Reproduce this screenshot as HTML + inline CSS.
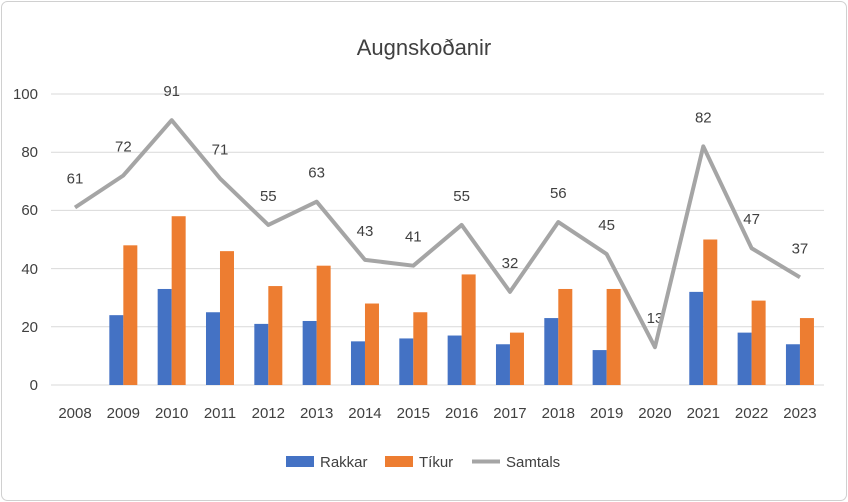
<!DOCTYPE html>
<html><head><meta charset="utf-8"><style>
body{margin:0;background:#fff;}
svg{display:block;font-family:"Liberation Sans",sans-serif;}
</style></head><body>
<svg width="848" height="502" viewBox="0 0 848 502">
<rect x="1.5" y="1.5" width="845" height="499" rx="6" fill="#fff" stroke="#d0d0d0"/>
<text x="424" y="55" text-anchor="middle" font-size="22" fill="#404040">Augnskoðanir</text>
<g stroke="#d9d9d9" stroke-width="1">
<line x1="51" y1="94" x2="824" y2="94"/><line x1="51" y1="152.2" x2="824" y2="152.2"/>
<line x1="51" y1="210.4" x2="824" y2="210.4"/><line x1="51" y1="268.6" x2="824" y2="268.6"/>
<line x1="51" y1="326.8" x2="824" y2="326.8"/><line x1="51" y1="385" x2="824" y2="385"/>
</g>
<g font-size="15" fill="#404040" text-anchor="end">
<text x="38" y="99">100</text><text x="38" y="157">80</text><text x="38" y="215">60</text>
<text x="38" y="274">40</text><text x="38" y="332">20</text><text x="38" y="390">0</text>
</g>
<g id="g"></g>
<g font-size="15" fill="#404040" text-anchor="middle" id="xl"></g>
<rect x="286" y="456" width="28" height="11" fill="#4472c4"/>
<text x="320" y="467" font-size="15" fill="#404040">Rakkar</text>
<rect x="385" y="456" width="28" height="11" fill="#ed7d31"/>
<text x="419" y="467" font-size="15" fill="#404040">Tíkur</text>
<line x1="472" y1="461.5" x2="500" y2="461.5" stroke="#a5a5a5" stroke-width="4"/>
<text x="506" y="467" font-size="15" fill="#404040">Samtals</text>
</svg>
<script>
var R=[0,24,33,25,21,22,15,16,17,14,23,12,0,32,18,14],T=[0,48,58,46,34,41,28,25,38,18,33,33,0,50,29,23];
var g=document.getElementById('g'),xl=document.getElementById('xl'),ns='http://www.w3.org/2000/svg',s='',l='',pts=[];
for(var i=0;i<16;i++){var cx=75+i*48.33,S=R[i]+T[i]||(i==12?13:61),k=2.91;
if(i==0)S=61;
if(R[i])s+='<rect x="'+(cx-14)+'" y="'+(385-R[i]*k)+'" width="14" height="'+R[i]*k+'" fill="#4472c4"/>';
if(T[i])s+='<rect x="'+cx+'" y="'+(385-T[i]*k)+'" width="14" height="'+T[i]*k+'" fill="#ed7d31"/>';
var y=385-S*k;pts.push(cx+','+y);
s+='<text x="'+cx+'" y="'+(y-24)+'" font-size="15" fill="#404040" text-anchor="middle">'+S+'</text>';
l+='<text x="'+cx+'" y="418">'+(2008+i)+'</text>';}
s+='<polyline points="'+pts.join(' ')+'" fill="none" stroke="#a5a5a5" stroke-width="4" stroke-linejoin="round"/>';
g.innerHTML=s;xl.innerHTML=l;
</script>
</body></html>
